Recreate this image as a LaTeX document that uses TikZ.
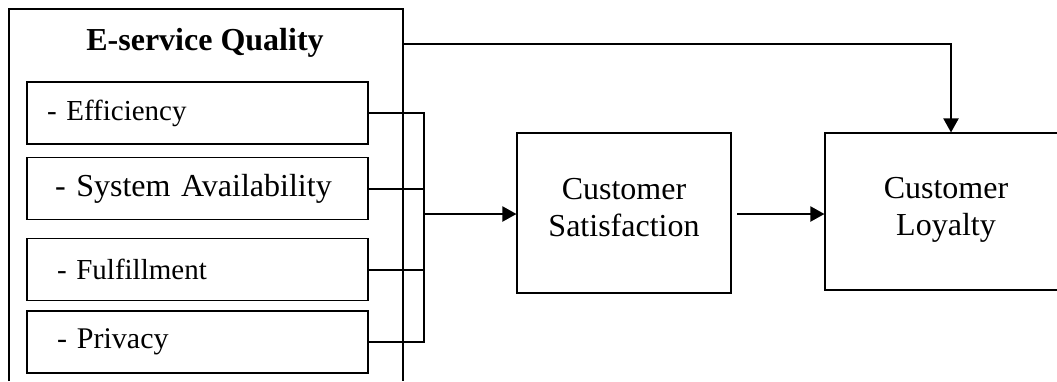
\documentclass[tikz,border=0pt]{standalone}
\usepackage{fontspec}
\setmainfont{Liberation Serif}
\usetikzlibrary{arrows.meta}

\begin{document}
\begin{tikzpicture} [x=1pt, y=-1pt, frame/.style={line width=1.1pt},
item/.style={draw, line width=1.1pt, minimum width=341pt, minimum height=62pt, align=left, inner ysep=0pt},
factor/.style={draw, line width=1.1pt, align=center, inner sep=0pt, font=\fontsize{32}{37}\selectfont},
link/.style={line width=2pt},
arrow/.style={-{Triangle[length=14pt,width=15pt]}, line width=2pt}]

\useasboundingbox (0,0) rectangle (1057,381);

%quality block, open at the bottom
\coordinate (QA) at (9,381);
\coordinate (QB) at (9,9);
\coordinate (QC) at (403,9);
\coordinate (QD) at (403,381);
\draw[frame] (QA) -- (QB) -- (QC) -- (QD);
\node[anchor=base, font=\fontsize{32}{37}\selectfont\bfseries] (title) at (205,50) {E-service Quality};

\node[item, inner xsep=20pt, text width=301pt, font=\fontsize{29}{33}\selectfont] (eff) at (197.5,113) {- Efficiency};
\node[item, inner xsep=28pt, text width=285pt, font=\fontsize{32}{37}\selectfont] (sys) at (197.5,188.5) {- System Availability};
\node[item, inner xsep=30pt, text width=281pt, font=\fontsize{29}{33}\selectfont] (ful) at (197.5,269.5) {- Fulfillment};
\node[item, inner xsep=30pt, text width=281pt, font=\fontsize{30}{34}\selectfont] (priv) at (197.5,342) {- Privacy};

\node[factor, minimum width=214pt, minimum height=160pt] (sat) at (624,213) {Customer\\Satisfaction\strut};
\node[factor, minimum width=242pt, minimum height=157pt] (loy) at (946,211.5) {Customer\\Loyalty\strut};

\coordinate (hub) at (424,214);
\coordinate (tap) at (403,44);
\coordinate (start) at (737,214);

\draw[link] (eff.east) -- (eff.east -| hub) -- (priv.east -| hub) -- (priv.east);
\draw[link] (sys.east) -- (sys.east -| hub);
\draw[link] (ful.east) -- (ful.east -| hub);
\draw[arrow] (hub) -- (hub -| sat.west);
\draw[arrow] (start) -- (start -| loy.west);
\draw[arrow] (tap) -| ([xshift=5pt]loy.north);

\end{tikzpicture}
\end{document}
